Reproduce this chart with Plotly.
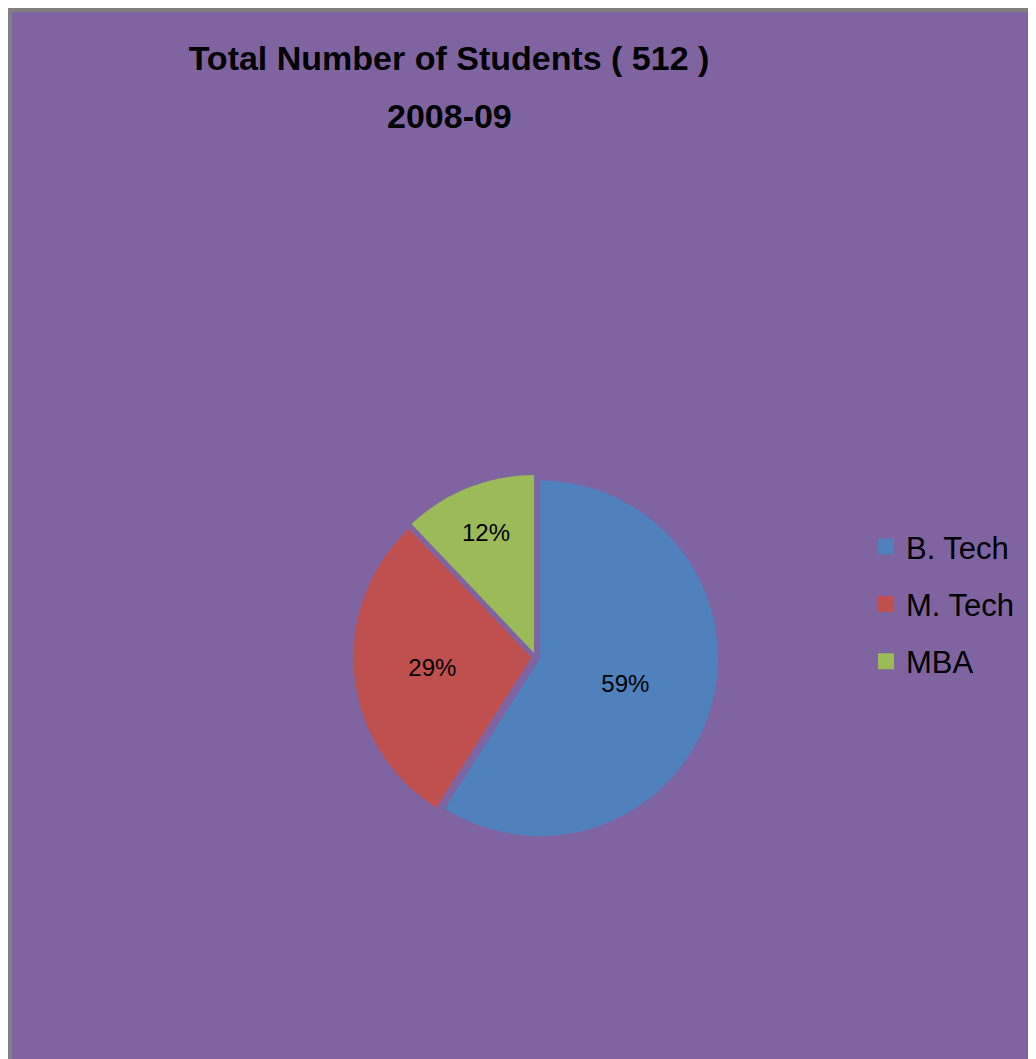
import plotly.graph_objects as go

# student counts for 2008-09 (total 512)
programs = ["B. Tech", "M. Tech", "MBA"]
students = [302, 148, 62]
colors = ["#4F81BD", "#C0504D", "#9BBB59"]
title_main = "Total Number of Students ( 512 )"
title_year = "2008-09"

bg = "#8064A2"
font = "Liberation Sans, Arial, sans-serif"

fig = go.Figure()

fig.add_trace(
    go.Pie(
        labels=programs,
        values=students,
        sort=False,
        direction="clockwise",
        rotation=0,
        pull=[0.025, 0.025, 0.025],
        marker=dict(colors=colors, line=dict(width=0)),
        texttemplate="%{percent:.0%}",
        textposition="inside",
        insidetextorientation="horizontal",
        textfont=dict(family=font, size=24, color="black"),
        domain=dict(x=[0.3335, 0.6853], y=[0.2129, 0.5614]),
        showlegend=False,
        hoverinfo="label+value+percent",
    )
)

# legend entries (one group each so they can be spaced out)
for name, col in zip(programs, colors):
    fig.add_trace(
        go.Scatter(
            x=[None],
            y=[None],
            mode="markers",
            name=name,
            legendgroup=name,
            marker=dict(symbol="square", size=16, color=col),
        )
    )

fig.update_layout(
    width=1036,
    height=1059,
    margin=dict(l=0, r=0, t=0, b=0),
    paper_bgcolor=bg,
    plot_bgcolor=bg,
    title=dict(
        text=title_main,
        x=441 / 1036,
        xanchor="center",
        y=1 - 50 / 1059,
        yanchor="middle",
        yref="container",
        font=dict(family=font, size=34, color="black", weight="bold"),
    ),
    annotations=[
        dict(
            text=title_year,
            x=441 / 1036,
            y=1 - 108 / 1059,
            xref="paper",
            yref="paper",
            xanchor="center",
            yanchor="middle",
            showarrow=False,
            font=dict(family=font, size=34, color="black", weight="bold"),
        )
    ],
    xaxis=dict(visible=False),
    yaxis=dict(visible=False),
    legend=dict(
        x=858 / 1036,
        xanchor="left",
        y=1 - 596 / 1059,
        yanchor="middle",
        font=dict(family=font, size=31, color="black"),
        bgcolor="rgba(0,0,0,0)",
        tracegroupgap=14,
    ),
    shapes=[
        dict(type="rect", xref="paper", yref="paper", x0=0, x1=4 / 1036, y0=0, y1=1,
             fillcolor="#808080", line=dict(width=0)),
        dict(type="rect", xref="paper", yref="paper", x0=0, x1=1, y0=1 - 4 / 1059, y1=1,
             fillcolor="#808080", line=dict(width=0)),
    ],
)

fig.write_html("out.html")
